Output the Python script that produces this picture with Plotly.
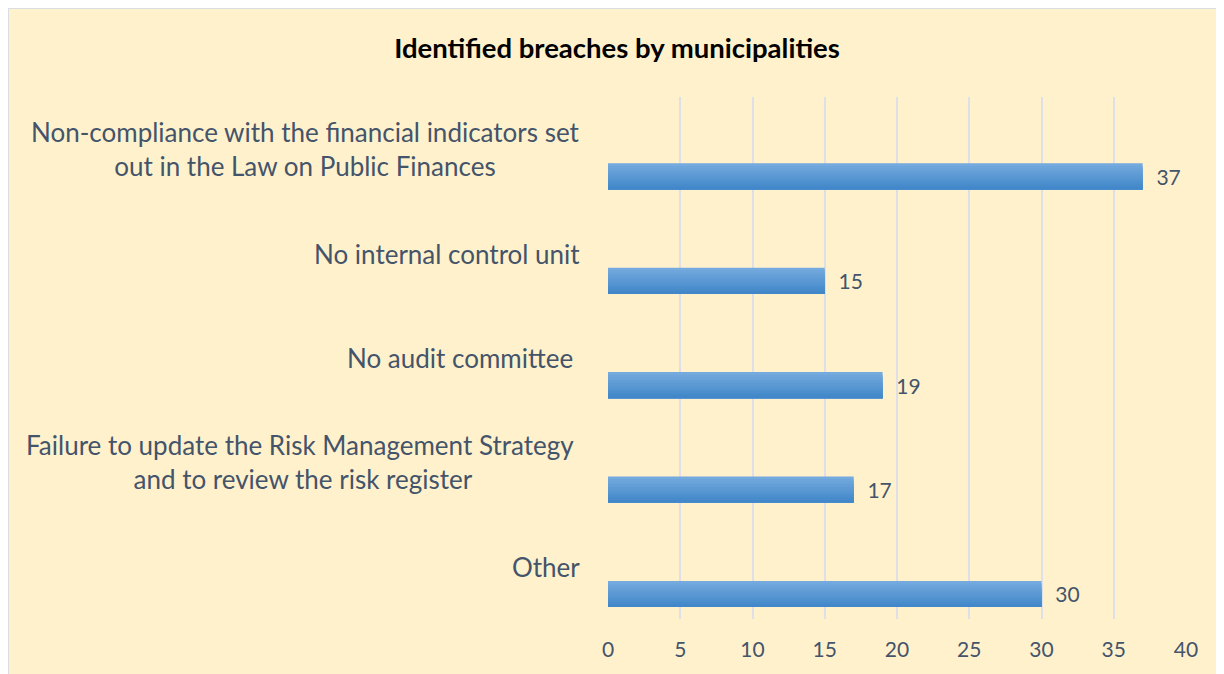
import plotly.graph_objects as go

categories = [
    "Non-compliance with the financial indicators set<br>out in the Law on Public Finances",
    "No internal control unit",
    "No audit committee\u00a0",
    "Failure to update the Risk Management Strategy\u00a0<br>and to review the risk register",
    "Other",
]
values = [37, 15, 19, 17, 30]
x_ticks = [0, 5, 10, 15, 20, 25, 30, 35, 40]

TEXT = "#44546A"
FONT = "Lato"

W, H = 1224, 674
L, R, T, B = 600, 46, 89, 63
pw = W - L - R
ph = H - T - B

def px_x(p):
    return (p - L) / pw

def px_y(p):
    return (H - B - p) / ph

# vertical gradient approximation (top -> bottom of bar)
top_c = (0x74, 0xAA, 0xDE)
bot_c = (0x41, 0x87, 0xC9)
N = 10
bar_w = 0.25
bar_off = 0.135

fig = go.Figure()
for k in range(N):
    t = k / (N - 1)
    col = tuple(round(top_c[j] + (bot_c[j] - top_c[j]) * t) for j in range(3))
    start = k * bar_w / N
    fig.add_trace(go.Bar(
        y=list(range(len(categories))),
        x=values,
        orientation="h",
        width=bar_w - start,
        offset=bar_off + start,
        marker=dict(color="rgb(%d,%d,%d)" % col, line=dict(width=0)),
        hoverinfo="x" if k == 0 else "skip",
    ))

# data labels
fig.add_trace(go.Bar(
    y=list(range(len(categories))),
    x=values,
    orientation="h",
    width=bar_w,
    offset=bar_off,
    marker=dict(color="rgba(0,0,0,0)", line=dict(width=0)),
    text=[f"  {v}" for v in values],
    textposition="outside",
    cliponaxis=False,
    textfont=dict(family=FONT, size=21, color=TEXT),
    hoverinfo="skip",
))

annotations = []
for i, c in enumerate(categories):
    annotations.append(dict(
        x=px_x(574), xref="paper", y=i, yref="y",
        text=c, showarrow=False, xanchor="right", yanchor="middle",
        align="center", font=dict(family=FONT, size=26, color=TEXT),
    ))

fig.update_layout(
    width=W, height=H,
    margin=dict(l=L, r=R, t=T, b=B, pad=0),
    paper_bgcolor="#FFF1CC",
    plot_bgcolor="rgba(0,0,0,0)",
    showlegend=False,
    barmode="overlay",
    title=dict(
        text="<b>Identified breaches by municipalities</b>",
        x=px_x(609), xanchor="center", xref="paper",
        y=1 - 40 / H, yanchor="middle",
        font=dict(family=FONT, size=27.5, color="black"),
    ),
    xaxis=dict(
        range=[0, 40], tickvals=x_ticks, ticktext=[str(t) for t in x_ticks],
        showgrid=True, gridcolor="#DDE1E7", gridwidth=2,
        zeroline=False, showline=False, ticks="",
        tickfont=dict(family=FONT, size=21, color=TEXT),
        ticklabelstandoff=16,
    ),
    yaxis=dict(
        range=[len(categories) - 0.5, -0.5],
        showticklabels=False, showgrid=False, zeroline=False, ticks="",
    ),
    annotations=annotations,
    shapes=[dict(
        type="rect", xref="paper", yref="paper", layer="below",
        x0=px_x(0), x1=px_x(W + 20), y0=px_y(H + 20), y1=px_y(0),
        line=dict(color="#D9DEE3", width=2), fillcolor="rgba(0,0,0,0)",
    )],
)

fig.write_html("out.html")
